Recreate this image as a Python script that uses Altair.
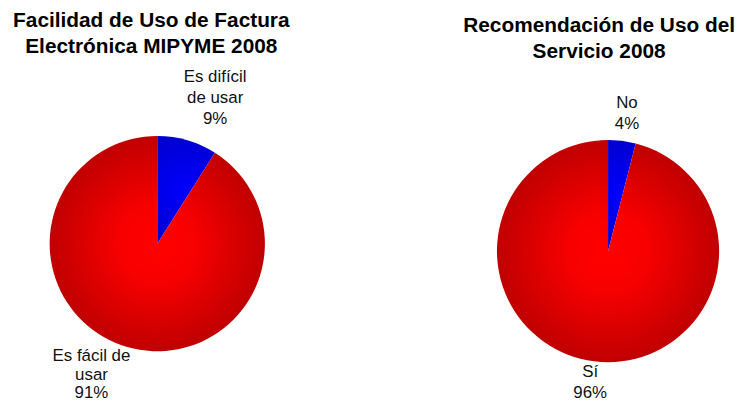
import altair as alt
import pandas as pd

# Chart 1: Facilidad de Uso
cats1 = ["dificil", "facil"]
names1 = ["Es difícil\nde usar", "Es fácil de\nusar"]
vals1 = [9, 91]
order1 = [0, 1]

# Chart 2: Recomendación
cats2 = ["no", "si"]
names2 = ["No", "Sí"]
vals2 = [4, 96]
order2 = [0, 1]

title1 = ["Facilidad de Uso de Factura", "Electrónica MIPYME 2008"]
title2 = ["Recomendación de Uso del", "Servicio 2008"]

FONT = "Liberation Sans"

red_grad = alt.Gradient(
    gradient="radial",
    stops=[alt.GradientStop(offset=0, color="#ff0000"),
           alt.GradientStop(offset=0.35, color="#f80000"),
           alt.GradientStop(offset=1, color="#c00000")],
    x1=0.5, y1=0.5, r1=0, x2=0.5, y2=0.5, r2=0.5,
)
blue_grad = alt.Gradient(
    gradient="radial",
    stops=[alt.GradientStop(offset=0, color="#0000ff"),
           alt.GradientStop(offset=1, color="#0000c8")],
    x1=0.5, y1=0.5, r1=0, x2=0.5, y2=0.5, r2=0.6,
)


def pie(cats, names, vals, order, title, width, height, cx, cy, radius,
        title_dx, lab_r, off_a, off_b):
    df = pd.DataFrame({"cat": cats, "name": names, "v": vals, "o": order})
    base = alt.Chart(df).transform_calculate(
        label="datum.name + '\\n' + datum.v + '%'"
    ).encode(
        theta=alt.Theta("v:Q", stack=True),
        detail=alt.Detail("cat:N"),
        order=alt.Order("o:Q"),
        x=alt.value(cx),
        y=alt.value(cy),
    )
    arcs = base.mark_arc(radius=radius, strokeWidth=0).encode(
        fill=alt.condition(alt.datum.o == 0, alt.value(blue_grad), alt.value(red_grad))
    )
    layers = [arcs]
    for idx, (ddx, ddy, lh) in enumerate([off_a, off_b]):
        layers.append(
            base.mark_text(radius=lab_r, dx=ddx, dy=ddy, font=FONT, fontSize=17,
                           lineHeight=lh, lineBreak="\n", color="#111111",
                           align="center", baseline="middle").encode(
                text=alt.condition(alt.datum.o == idx, alt.Text("label:N"), alt.value(""))
            )
        )
    return alt.layer(*layers).properties(
        width=width, height=height,
        title=alt.TitleParams(title, font=FONT, fontSize=21, fontWeight="bold",
                              lineHeight=26, anchor="middle", dx=title_dx,
                              offset=4, color="#000000"),
    )


left = pie(cats1, names1, vals1, order1, title1, 300, 320, 150.5, 179, 108.5,
           -5.5, 150, (16.5, -23.5, 21), (-24.5, -31, 19))
right = pie(cats2, names2, vals2, order2, title2, 276, 320, 147, 186.5, 112,
            0, 140, (1.5, -10.5, 21), (-0.5, -16.5, 21))

chart = alt.hconcat(left, right, spacing=158).properties(
    padding=0, background="white"
).configure_view(stroke=None)

chart.save("out.html", embed_options={"renderer": "svg", "actions": False})
